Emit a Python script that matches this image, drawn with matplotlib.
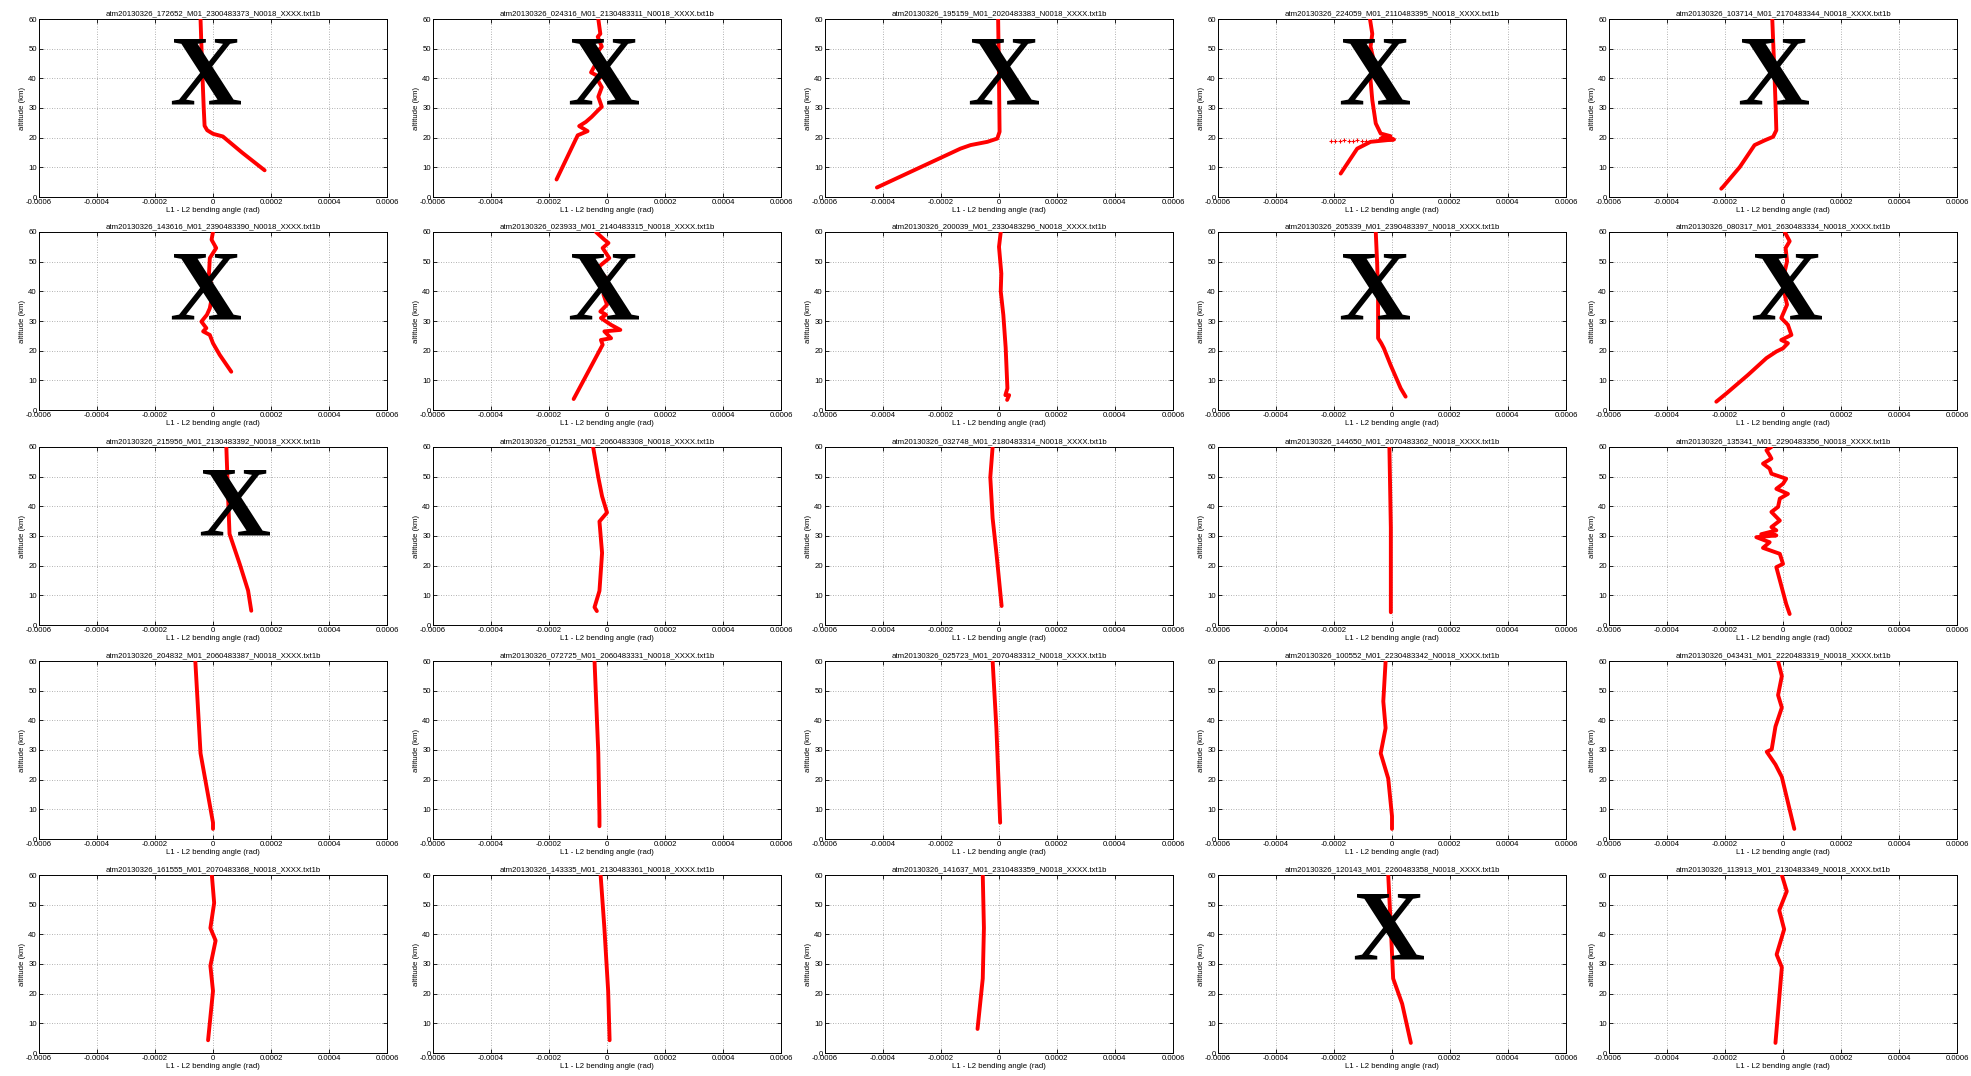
import numpy as np
import matplotlib.pyplot as plt
from matplotlib.ticker import FuncFormatter

# 5x5 panels of L1-L2 bending angle profiles (angle in 1e-4 rad, altitude in km)

titles = [
    'atm20130326_172652_M01_2300483373_N0018_XXXX.txt1b',
    'atm20130326_024316_M01_2130483311_N0018_XXXX.txt1b',
    'atm20130326_195159_M01_2020483383_N0018_XXXX.txt1b',
    'atm20130326_224059_M01_2110483395_N0018_XXXX.txt1b',
    'atm20130326_103714_M01_2170483344_N0018_XXXX.txt1b',
    'atm20130326_143616_M01_2390483390_N0018_XXXX.txt1b',
    'atm20130326_023933_M01_2140483315_N0018_XXXX.txt1b',
    'atm20130326_200039_M01_2330483296_N0018_XXXX.txt1b',
    'atm20130326_205339_M01_2390483397_N0018_XXXX.txt1b',
    'atm20130326_080317_M01_2630483334_N0018_XXXX.txt1b',
    'atm20130326_215956_M01_2130483392_N0018_XXXX.txt1b',
    'atm20130326_012531_M01_2060483308_N0018_XXXX.txt1b',
    'atm20130326_032748_M01_2180483314_N0018_XXXX.txt1b',
    'atm20130326_144650_M01_2070483362_N0018_XXXX.txt1b',
    'atm20130326_135341_M01_2290483356_N0018_XXXX.txt1b',
    'atm20130326_204832_M01_2060483387_N0018_XXXX.txt1b',
    'atm20130326_072725_M01_2060483331_N0018_XXXX.txt1b',
    'atm20130326_025723_M01_2070483312_N0018_XXXX.txt1b',
    'atm20130326_100552_M01_2230483342_N0018_XXXX.txt1b',
    'atm20130326_043431_M01_2220483319_N0018_XXXX.txt1b',
    'atm20130326_161555_M01_2070483368_N0018_XXXX.txt1b',
    'atm20130326_143335_M01_2130483361_N0018_XXXX.txt1b',
    'atm20130326_141637_M01_2310483359_N0018_XXXX.txt1b',
    'atm20130326_120143_M01_2260483358_N0018_XXXX.txt1b',
    'atm20130326_113913_M01_2130483349_N0018_XXXX.txt1b',
]

angles = [
    [-0.43, -0.38, -0.32, -0.29, -0.20, 0.0, 0.34, 1.0, 1.78],
    [-0.30, -0.23, -0.32, -0.18, -0.32, -0.27, -0.55, -0.23, -0.32, -0.18, -0.30, -0.18, -0.30,
     -0.53, -0.73, -0.96, -0.67, -1.01, -1.74],
    [-0.03, 0.0, 0.02, -0.06, -0.40, -0.98, -1.33, -4.21],
    [-0.76, -0.68, -0.74, -0.66, -0.74, -0.68, -0.56, -0.39, -0.05, -0.39, 0.07, -0.74, -1.20, -1.77],
    [-0.37, -0.29, -0.25, -0.23, -0.34, -0.63, -0.98, -1.49, -2.07, -2.13],
    [0.0, -0.05, 0.11, -0.11, -0.14, 0.0, -0.11, -0.21, -0.40, -0.23, -0.34, -0.11, 0.0, 0.23, 0.63],
    [-0.38, -0.09, 0.05, -0.15, 0.08, -0.27, -0.21, -0.03, -0.12, 0.0, -0.23, -0.03, -0.21, 0.14,
     0.46, -0.09, 0.14, -0.21, -0.15, -1.15],
    [0.06, 0.0, 0.08, 0.06, 0.15, 0.23, 0.29, 0.22, 0.35, 0.28],
    [-0.56, -0.51, -0.48, -0.48, -0.37, -0.28, -0.05, 0.30, 0.47],
    [0.06, 0.23, 0.09, 0.14, 0.06, 0.17, 0.06, 0.14, -0.06, 0.17, 0.29, -0.06, 0.17, 0.0, -0.23,
     -0.57, -1.21, -1.95, -2.30],
    [0.46, 0.52, 0.57, 0.92, 1.21, 1.32],
    [-0.48, -0.30, -0.17, 0.0, -0.26, -0.17, -0.26, -0.43, -0.35],
    [-0.22, -0.30, -0.22, -0.09, 0.09],
    [-0.09, -0.04, -0.04, -0.04],
    [-0.40, -0.57, -0.46, -0.40, -0.69, -0.46, -0.40, 0.11, 0.0, -0.23, 0.17, -0.11, -0.17, -0.40,
     -0.11, -0.40, -0.23, -0.75, -0.23, -0.92, -0.46, -0.69, -0.11, 0.0, -0.23, 0.11, 0.23],
    [-0.61, -0.43, 0.0, 0.0],
    [-0.43, -0.30, -0.26, -0.26],
    [-0.22, -0.09, 0.04],
    [-0.22, -0.30, -0.22, -0.39, -0.13, 0.0, 0.0],
    [-0.17, -0.04, -0.17, -0.04, -0.26, -0.39, -0.56, -0.26, -0.04, 0.39],
    [-0.04, 0.04, -0.09, 0.09, -0.09, 0.0, -0.17],
    [-0.22, -0.09, 0.04, 0.09],
    [-0.56, -0.52, -0.56, -0.74],
    [-0.13, -0.04, 0.04, 0.35, 0.65],
    [-0.04, 0.13, -0.13, 0.04, -0.22, -0.04, -0.26],
]

altitudes = [
    [60, 45, 30, 24, 22.5, 21.3, 20.4, 15, 9],
    [60, 55, 54, 50.7, 49, 47, 42, 40.3, 39.4, 37, 33.8, 30.4, 29.3, 27, 25.3, 23.9, 22.2, 20.8, 5.9],
    [60, 40, 22, 19.7, 18.6, 17.5, 16.3, 3.2],
    [60, 55, 50.7, 47.3, 39.4, 32.7, 24.8, 21.4, 20.5, 19.7, 19.4, 18.6, 16.3, 7.9],
    [60, 40.5, 29.3, 22.5, 20.3, 19.1, 17.5, 10.1, 3.4, 2.8],
    [60, 57.4, 54.6, 51.2, 45.6, 39.9, 34.3, 32.1, 29.8, 27.6, 26.5, 25.3, 22.5, 18.6, 12.9],
    [60, 57.4, 56.3, 54.6, 51.2, 48.4, 46.2, 44.5, 38.9, 35.5, 33.2, 32.1, 31.0, 28.7, 27.0, 26.5,
     24.2, 23.6, 22.0, 3.7],
    [60, 55, 46, 40, 32, 21, 7.3, 5.0, 5.0, 3.4],
    [60, 49, 37.7, 24.2, 22.5, 20.8, 15.2, 7.3, 4.5],
    [60, 56.9, 54.6, 50.1, 46.7, 43.4, 38.9, 35.5, 31.0, 28.7, 25.3, 23.6, 22.5, 20.8, 19.7, 17.5,
     11.8, 5.6, 2.8],
    [60, 43.2, 30.7, 20.6, 11.6, 4.8],
    [60, 49.8, 43.4, 37.9, 34.9, 24.3, 11.5, 6.0, 4.7],
    [60, 49.8, 36.0, 24.3, 6.4],
    [60, 32.8, 7.2, 4.3],
    [60, 58.9, 57.2, 56.1, 54.4, 52.7, 51.0, 49.3, 47.6, 45.9, 44.2, 42.6, 39.8, 38.1, 35.2, 33.0,
     31.9, 30.6, 30.2, 29.6, 27.9, 26.0, 24.0, 20.6, 19.5, 7.1, 3.7],
    [60, 28.9, 5.5, 3.4],
    [60, 28.9, 7.7, 4.3],
    [60, 37.4, 5.5],
    [60, 46.4, 37.4, 28.9, 20.4, 7.7, 3.4],
    [60, 54.9, 48.5, 44.3, 37.9, 30.2, 29.4, 25.1, 20.9, 3.4],
    [60, 50.6, 42.1, 37.9, 29.4, 20.9, 4.3],
    [60, 42.1, 20.9, 4.3],
    [60, 42.1, 25.1, 8.1],
    [60, 42.1, 25.1, 16.6, 3.4],
    [60, 54.5, 48.1, 41.7, 33.2, 28.9, 3.4],
]

# scattered points off the profile in panel 4 (around 19 km)
outlier_ang = [-2.1, -1.95, -1.8, -1.65, -1.5, -1.35, -1.2, -1.05, -0.9]
outlier_alt = [18.9, 19.0, 18.8, 19.1, 18.9, 19.0, 19.1, 18.9, 19.0]
outlier_panel = 3

# panels crossed out with a big X: (panel index, x, y in axes fraction)
crossed = [(0, 0.478, 0.66), (1, 0.489, 0.66), (2, 0.512, 0.66), (3, 0.45, 0.66),
           (4, 0.473, 0.66), (5, 0.478, 0.65), (6, 0.489, 0.65), (8, 0.45, 0.65),
           (9, 0.51, 0.65), (10, 0.562, 0.645), (23, 0.49, 0.665)]

xticks = [-6e-4, -4e-4, -2e-4, 0, 2e-4, 4e-4, 6e-4]
yticks = [0, 10, 20, 30, 40, 50, 60]
ANG_SCALE = 1e-4

plt.rcParams['font.family'] = ['Liberation Sans', 'DejaVu Sans']
FS = 5.6

W, H = 1971, 1076
fig = plt.figure(figsize=(W / 100, H / 100), dpi=100)

col_left = [39, 433, 825, 1218, 1609]
row_top = [19, 232, 447, 661, 875]
aw, ah = 348, 178

fmt = FuncFormatter(lambda v, p: '%g' % round(v, 6))

axes = []
for i in range(25):
    r, c = divmod(i, 5)
    ax = fig.add_axes([col_left[c] / W, 1 - (row_top[r] + ah) / H, aw / W, ah / H])
    ax.set_xlim(-6e-4, 6e-4)
    ax.set_ylim(0, 60)
    ax.set_xticks(xticks)
    ax.set_yticks(yticks)
    ax.xaxis.set_major_formatter(fmt)
    ax.grid(True, color='#999999', linestyle=(0, (1, 2)), linewidth=0.6)
    ax.tick_params(direction='in', top=True, right=True, length=3, width=0.6,
                   labelsize=FS, pad=1.5)
    for s in ax.spines.values():
        s.set_linewidth(0.7)
    ax.set_title(titles[i], fontsize=FS, pad=3)
    ax.set_xlabel('L1 - L2 bending angle (rad)', fontsize=FS, labelpad=1)
    ax.set_ylabel('altitude (km)', fontsize=FS, labelpad=2)

    a = np.array(angles[i]) * ANG_SCALE
    ax.plot(a, altitudes[i], color='red', linewidth=2.8, solid_joinstyle='round',
            solid_capstyle='round', zorder=3)
    axes.append(ax)

axes[outlier_panel].plot(np.array(outlier_ang) * ANG_SCALE, outlier_alt, linestyle='none',
                         marker='+', color='red', markersize=3, markeredgewidth=0.8, zorder=3)

for idx, fx, fy in crossed:
    axes[idx].text(fx, fy, 'X', transform=axes[idx].transAxes, fontsize=72,
                   family=['Liberation Serif', 'DejaVu Serif'], fontweight='bold',
                   ha='center', va='center', color='black', zorder=4)

fig.savefig('out.png', dpi=100)
